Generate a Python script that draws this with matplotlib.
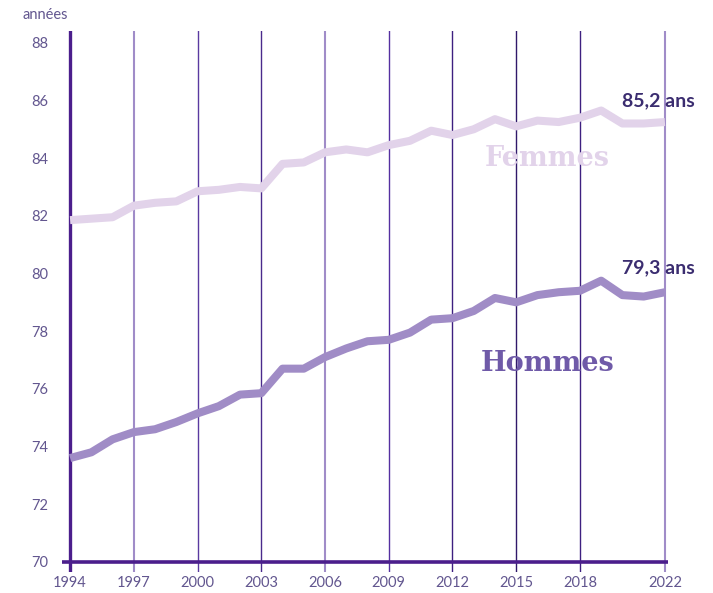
import matplotlib.pyplot as plt

years = list(range(1994, 2023))
femmes = [81.85, 81.9, 81.95, 82.35, 82.45, 82.5, 82.85, 82.9, 83.0, 82.95,
          83.8, 83.85, 84.2, 84.3, 84.2, 84.45, 84.6, 84.95, 84.8, 85.0,
          85.35, 85.1, 85.3, 85.25, 85.4, 85.65, 85.2, 85.2, 85.25]
hommes = [73.6, 73.8, 74.25, 74.5, 74.6, 74.85, 75.15, 75.4, 75.8, 75.85,
          76.7, 76.7, 77.1, 77.4, 77.65, 77.7, 77.95, 78.4, 78.45, 78.7,
          79.15, 79.0, 79.25, 79.35, 79.4, 79.75, 79.25, 79.2, 79.35]

tick_years = [1994, 1997, 2000, 2003, 2006, 2009, 2012, 2015, 2018, 2022]
grid_colors = ["#4b1e8c", "#a08cc8", "#5a3aa0", "#4a2a8c", "#a08cc8",
               "#5530a0", "#3e2080", "#30196a", "#3e2080", "#a08cc8"]
y_ticks = list(range(70, 90, 2))

TXT = "#62568f"
DARK = "#3b2d70"

fig = plt.figure(figsize=(7.13, 5.93), dpi=100)
ax = fig.add_axes([0.087, 0.0354, 0.85, 0.912])

ax.set_xlim(1993.62, 2022.15)
ax.set_ylim(69.65, 88.4)

for yr, col in zip(tick_years, grid_colors):
    lw = 2.4 if yr == 1994 else (1.5 if col == "#a08cc8" else 1.0)
    ax.axvline(yr, color=col, lw=lw, zorder=1)
ax.axhline(70, xmin=0, xmax=1, color="#4b1e8c", lw=2.6, zorder=3)

ax.plot(years, femmes, color="#e2d3ea", lw=5.8, solid_joinstyle="round",
        solid_capstyle="butt", zorder=2)
ax.plot(years, hommes, color="#a08cc6", lw=5.8, solid_joinstyle="round",
        solid_capstyle="butt", zorder=2)

for s in ax.spines.values():
    s.set_visible(False)

ax.set_xticks(tick_years)
ax.set_xticklabels([str(y) for y in tick_years])
ax.set_yticks(y_ticks)
ax.set_yticklabels([str(y) for y in y_ticks])
ax.tick_params(axis="both", length=0, colors=TXT, labelsize=10.5)
ax.tick_params(axis="x", pad=3)
ax.tick_params(axis="y", pad=10)
for lab in ax.get_xticklabels() + ax.get_yticklabels():
    lab.set_family("Lato")

ax.text(2021.7, 86.0, "85,2 ans", ha="center", va="center",
        color=DARK, fontsize=14, fontweight="bold", family="Lato")
ax.text(2021.7, 80.2, "79,3 ans", ha="center", va="center",
        color=DARK, fontsize=14, fontweight="bold", family="Lato")

ax.text(2016.45, 84.0, "Femmes", ha="center", va="center", color="#e2d3ea",
        fontsize=19.5, fontweight="bold", family="DejaVu Serif")
ax.text(2016.5, 76.87, "Hommes", ha="center", va="center", color="#6f5aa8",
        fontsize=19.5, fontweight="bold", family="DejaVu Serif")

fig.text(0.031, 0.975, "années", ha="left", va="center", color=TXT,
         fontsize=10.5, family="Lato")

fig.savefig("out.png", dpi=100)
